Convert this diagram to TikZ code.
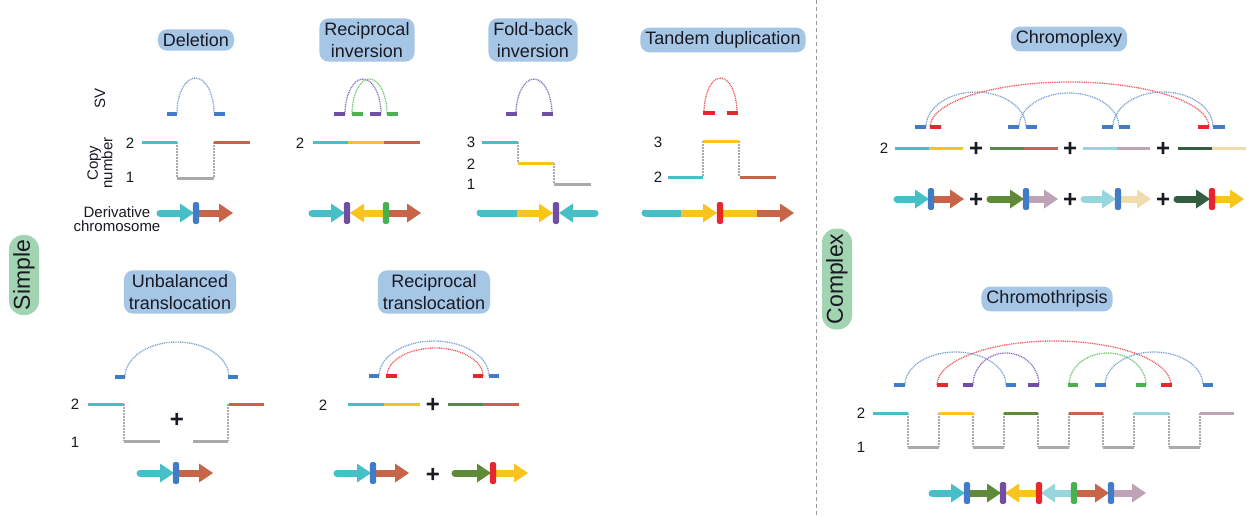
\documentclass[tikz,border=0pt]{standalone}
\usepackage{fontspec}
\setmainfont{Liberation Sans}
\definecolor{lblue}{RGB}{166,198,229}
\definecolor{lgreen}{RGB}{163,212,178}
\definecolor{cteal}{RGB}{70,192,198}
\definecolor{corange}{RGB}{200,100,72}
\definecolor{cyellow}{RGB}{250,196,30}
\definecolor{cgray}{RGB}{170,170,170}
\definecolor{cblue}{RGB}{65,125,198}
\definecolor{cbluearc}{RGB}{125,162,212}
\definecolor{cpurple}{RGB}{112,78,162}
\definecolor{cpurplearc}{RGB}{140,110,190}
\definecolor{cgreen}{RGB}{72,178,78}
\definecolor{cgreenarc}{RGB}{110,200,110}
\definecolor{cred}{RGB}{232,38,48}
\definecolor{credarc}{RGB}{238,90,95}
\definecolor{colive}{RGB}{95,138,55}
\definecolor{cltteal}{RGB}{150,214,220}
\definecolor{cmauve}{RGB}{190,162,182}
\definecolor{ctan}{RGB}{240,220,172}
\definecolor{cdkgreen}{RGB}{52,92,62}
\definecolor{ctext}{RGB}{25,25,35}
\tikzset{
  title/.style={fill=lblue, rounded corners=9pt, font=\fontsize{18}{22}\selectfont, text=ctext, align=center, inner xsep=5pt, inner ysep=4pt},
  cat/.style={fill=lgreen, rounded corners=14pt, rotate=90, font=\fontsize{23}{27}\selectfont, text=ctext, minimum height=30pt, inner sep=0pt},
  seg/.style={line width=3pt},
  tickm/.style={line width=3.2pt},
  svarc/.style={line width=1.3pt, dash pattern=on 1pt off 0.8pt},
  cnv/.style={cgray, line width=1.2pt, dash pattern=on 1.5pt off 1.5pt},
  lab/.style={font=\fontsize{15}{14.5}\selectfont, text=ctext, inner sep=0pt},
  num/.style={font=\fontsize{15}{15}\selectfont, text=ctext, inner sep=0pt},
  plus/.style={font=\fontsize{24}{24}\selectfont\bfseries, text=ctext, inner sep=0pt},
}
% arch: color, x1, x2, ybase, ytop
\newcommand\svarch[5]{%
  \draw[svarc,#1] (#2,#4) .. controls (#2,{#4-0.552*(#4-#5)}) and ({(#2+#3)/2-0.276*(#3-#2)},#5) .. ({(#2+#3)/2},#5)
    .. controls ({(#2+#3)/2+0.276*(#3-#2)},#5) and (#3,{#4-0.552*(#4-#5)}) .. (#3,#4);}
% breakpoint bar: color, x, y
\newcommand\cbar[3]{\fill[#1, rounded corners=2.5pt] ({#2-3.2},{#3-11}) rectangle ({#2+3.2},{#3+11});}
% chromosome arrow: [opts], color, xstart, xtip, y
\newcommand\carrow[5][]{%
  \pgfmathsetmacro\cdir{sign(#4-#3)}%
  \draw[#2, line width=7pt, line cap=round, #1] (#3,#5) -- ({#4-\cdir*12},#5);
  \fill[#2] ({#4-\cdir*14},{#5-9.5}) -- (#4,#5) -- ({#4-\cdir*14},{#5+9.5}) -- cycle;}
% chromosome body without head: [opts], color, x1, x2, y
\newcommand\cbody[5][]{\draw[#2, line width=7pt, line cap=round, #1] (#3,#5) -- (#4,#5);}
\begin{document}
\begin{tikzpicture}[x=1pt,y=-1pt]
\useasboundingbox (0,0) rectangle (1247,517);
\fill[white] (0,0) rectangle (1247,517);
\draw[gray!80, line width=0.8pt, dash pattern=on 4pt off 3pt] (816,0) -- (816,517);

% category labels
\node[cat, minimum width=80pt] (simple) at (24,275) {Simple};
\node[cat, minimum width=101pt] (complex) at (837,279) {Complex};

% ===== Deletion =====
\node[title] (tdel) at (196,40) {Deletion};
\node[lab, rotate=90] (sv) at (100,98) {SV};
\node[lab, rotate=90, align=center] (cn) at (100,163) {Copy\\number};
\node[lab, align=center] (dc) at (117,219) {Derivative\\chromosome};
\draw[tickm,cblue] (167,114) -- (177,114);
\draw[tickm,cblue] (214,114) -- (225,114);
\svarch{cbluearc}{177}{214}{113}{78}
\node[num] (d2) at (130,143) {2};
\node[num] (d1) at (130,177) {1};
\draw[cnv] (177,142) -- (177,178);
\draw[cnv] (214,142) -- (214,178);
\draw[seg,cteal] (142,142) -- (177,142);
\draw[seg,cgray] (177,178) -- (214,178);
\draw[seg,corange] (214,142) -- (250,142);
\carrow{cteal}{160}{194}{213}
\carrow{corange}{199}{233}{213}
\cbar{cblue}{196}{213}

% ===== Reciprocal inversion =====
\node[title] (trinv) at (367,40) {Reciprocal\\inversion};
\svarch{cpurplearc}{345}{381}{114}{79}
\svarch{cgreenarc}{352}{387}{114}{79}
\draw[tickm,cpurple] (334,114) -- (345,114);
\draw[tickm,cgreen] (352,114) -- (363,114);
\draw[tickm,cpurple] (370,114) -- (381,114);
\draw[tickm,cgreen] (387,114) -- (398,114);
\node[num] (ri2) at (300,143) {2};
\draw[seg,cteal] (313,142) -- (348,142);
\draw[seg,cyellow] (348,142) -- (384,142);
\draw[seg,corange] (384,142) -- (420,142);
\carrow{cteal}{312}{345}{213}
\carrow{cyellow}{385}{350}{213}
\carrow{corange}{389}{421}{213}
\cbar{cpurple}{347}{213}
\cbar{cgreen}{386}{213}

% ===== Fold-back inversion =====
\node[title] (tfold) at (533,40) {Fold-back\\inversion};
\svarch{cpurplearc}{516}{552}{114}{79}
\draw[tickm,cpurple] (506,114) -- (517,114);
\draw[tickm,cpurple] (542,114) -- (553,114);
\node[num] (f3) at (471,142) {3};
\node[num] (f2) at (471,164) {2};
\node[num] (f1) at (471,184) {1};
\draw[cnv] (518,142) -- (518,163);
\draw[cnv] (554,163) -- (554,184);
\draw[seg,cteal] (482,142) -- (518,142);
\draw[seg,cyellow] (518,163) -- (554,163);
\draw[seg,cgray] (554,184) -- (591,184);
\cbody[line cap=butt]{cteal}{480}{517}{213}
\fill[cteal] (480,209.5) arc[start angle=90, end angle=270, radius=3.5pt];
\carrow[line cap=butt]{cyellow}{517}{553}{213}
\carrow{cteal}{595}{559}{213}
\cbar{cpurple}{556}{213}

% ===== Tandem duplication =====
\node[title] (ttan) at (723,40) {Tandem duplication};
\svarch{credarc}{704}{737}{113}{78}
\draw[tickm,cred] (703,113) -- (715,113);
\draw[tickm,cred] (727,113) -- (738,113);
\node[num] (t3) at (658,142) {3};
\node[num] (t2) at (658,177) {2};
\draw[cnv] (703,141) -- (703,177);
\draw[cnv] (739,141) -- (739,177);
\draw[seg,cteal] (668,177) -- (703,177);
\draw[seg,cyellow] (703,141) -- (739,141);
\draw[seg,corange] (740,177) -- (776,177);
\cbody[line cap=butt]{cteal}{645}{681}{213}
\fill[cteal] (645,209.5) arc[start angle=90, end angle=270, radius=3.5pt];
\carrow[line cap=butt]{cyellow}{681}{717}{213}
\cbody[line cap=butt]{cyellow}{721}{757}{213}
\carrow[line cap=butt]{corange}{757}{794}{213}
\cbar{cred}{720}{213}

% ===== Unbalanced translocation =====
\node[title] (tunb) at (180,292) {Unbalanced\\translocation};
\svarch{cbluearc}{125}{229}{377}{342}
\draw[tickm,cblue] (115,377) -- (125,377);
\draw[tickm,cblue] (228,377) -- (238,377);
\node[num] (u2) at (75,404) {2};
\node[num] (u1) at (75,442) {1};
\draw[cnv] (124,404) -- (124,441);
\draw[cnv] (228,404) -- (228,441);
\draw[seg,cteal] (88,404) -- (124,404);
\draw[seg,cgray] (124,441) -- (160,441);
\draw[seg,cgray] (193,441) -- (228,441);
\draw[seg,corange] (229,404) -- (264,404);
\node[plus] (up) at (177,420) {+};
\carrow{cteal}{140}{174}{473}
\carrow{corange}{179}{213}{473}
\cbar{cblue}{176}{473}

% ===== Reciprocal translocation =====
\node[title] (trt) at (434,292) {Reciprocal\\translocation};
\svarch{cbluearc}{379}{489}{376}{341}
\svarch{credarc}{387}{483}{376}{348}
\draw[tickm,cblue] (369,376) -- (379,376);
\draw[tickm,cblue] (489,376) -- (499,376);
\draw[tickm,cred] (386,376) -- (397,376);
\draw[tickm,cred] (473,376) -- (483,376);
\node[num] (rt2) at (323,405) {2};
\draw[seg,cteal] (348,404) -- (384,404);
\draw[seg,cyellow] (384,404) -- (420,404);
\node[plus] (rtp1) at (433,405) {+};
\draw[seg,colive] (448,404) -- (483,404);
\draw[seg,corange] (483,404) -- (519,404);
\carrow{cteal}{337}{371}{473}
\carrow{corange}{376}{409}{473}
\cbar{cblue}{373}{473}
\node[plus] (rtp2) at (433,475) {+};
\carrow{colive}{455}{491}{473}
\carrow{cyellow}{496}{528}{473}
\cbar{cred}{493}{473}

% ===== Chromoplexy =====
\node[title] (tcpx) at (1069,39) {Chromoplexy};
\svarch{cbluearc}{926}{1026}{127}{92}
\svarch{cbluearc}{1019}{1119}{127}{93}
\svarch{cbluearc}{1113}{1213}{127}{92}
\svarch{credarc}{930}{1209}{127}{82}
\draw[tickm,cblue] (915,127) -- (926,127);
\draw[tickm,cred] (930,127) -- (941,127);
\draw[tickm,cblue] (1008,127) -- (1019,127);
\draw[tickm,cblue] (1026,127) -- (1037,127);
\draw[tickm,cblue] (1102,127) -- (1113,127);
\draw[tickm,cblue] (1119,127) -- (1130,127);
\draw[tickm,cred] (1198,127) -- (1209,127);
\draw[tickm,cblue] (1213,127) -- (1225,127);
\node[num] (cp2) at (884,148) {2};
\draw[seg,cteal] (895,148) -- (929,148);
\draw[seg,cyellow] (929,148) -- (963,148);
\node[plus] (cpp1) at (976,149) {+};
\draw[seg,colive] (990,148) -- (1024,148);
\draw[seg,corange] (1024,148) -- (1058,148);
\node[plus] (cpp2) at (1070,149) {+};
\draw[seg,cltteal] (1083,148) -- (1117,148);
\draw[seg,cmauve] (1117,148) -- (1150,148);
\node[plus] (cpp3) at (1163,149) {+};
\draw[seg,cdkgreen] (1178,148) -- (1212,148);
\draw[seg,ctan] (1212,148) -- (1246,148);
\carrow{cteal}{897}{929}{199}
\carrow{corange}{934}{964}{199}
\cbar{cblue}{931}{199}
\node[plus] (cpq1) at (976,200) {+};
\carrow{colive}{990}{1024}{199}
\carrow{cmauve}{1029}{1058}{199}
\cbar{cblue}{1026}{199}
\node[plus] (cpq2) at (1070,200) {+};
\carrow{cltteal}{1084}{1116}{199}
\carrow{ctan}{1121}{1151}{199}
\cbar{cblue}{1118}{199}
\node[plus] (cpq3) at (1163,200) {+};
\carrow{cdkgreen}{1177}{1210}{199}
\carrow{cyellow}{1215}{1244}{199}
\cbar{cred}{1212}{199}

% ===== Chromothripsis =====
\node[title] (tctx) at (1047,299) {Chromothripsis};
\svarch{cbluearc}{905}{1006}{385}{352}
\svarch{credarc}{937}{1171}{385}{341}
\svarch{cpurplearc}{973}{1039}{385}{353}
\svarch{cgreenarc}{1069}{1146}{385}{353}
\svarch{cbluearc}{1105}{1203}{385}{352}
\draw[tickm,cblue] (894,385) -- (905,385);
\draw[tickm,cred] (937,385) -- (948,385);
\draw[tickm,cpurple] (963,385) -- (973,385);
\draw[tickm,cblue] (1006,385) -- (1016,385);
\draw[tickm,cpurple] (1028,385) -- (1039,385);
\draw[tickm,cgreen] (1068,385) -- (1078,385);
\draw[tickm,cblue] (1095,385) -- (1106,385);
\draw[tickm,cgreen] (1136,385) -- (1146,385);
\draw[tickm,cred] (1161,385) -- (1172,385);
\draw[tickm,cblue] (1203,385) -- (1213,385);
\node[num] (ct2) at (861,413) {2};
\node[num] (ct1) at (861,447) {1};
\foreach \xx in {908,939,973,1004,1038,1069,1103,1134,1169,1200}
  \draw[cnv] (\xx,413) -- (\xx,447);
\draw[seg,cteal] (873,413) -- (908,413);
\draw[seg,cgray] (908,447) -- (939,447);
\draw[seg,cyellow] (939,413) -- (973,413);
\draw[seg,cgray] (973,447) -- (1004,447);
\draw[seg,colive] (1004,413) -- (1038,413);
\draw[seg,cgray] (1038,447) -- (1069,447);
\draw[seg,corange] (1069,413) -- (1103,413);
\draw[seg,cgray] (1103,447) -- (1134,447);
\draw[seg,cltteal] (1134,413) -- (1169,413);
\draw[seg,cgray] (1169,447) -- (1200,447);
\draw[seg,cmauve] (1200,413) -- (1234,413);
\carrow{cteal}{932}{965}{493}
\carrow{colive}{970}{1001}{493}
\carrow{cyellow}{1036}{1005}{493}
\carrow{cltteal}{1071}{1041}{493}
\carrow{corange}{1078}{1109}{493}
\carrow{cmauve}{1114}{1146}{493}
\cbar{cblue}{967}{493}
\cbar{cpurple}{1003}{493}
\cbar{cred}{1039}{493}
\cbar{cgreen}{1074}{493}
\cbar{cblue}{1111}{493}
\end{tikzpicture}
\end{document}
